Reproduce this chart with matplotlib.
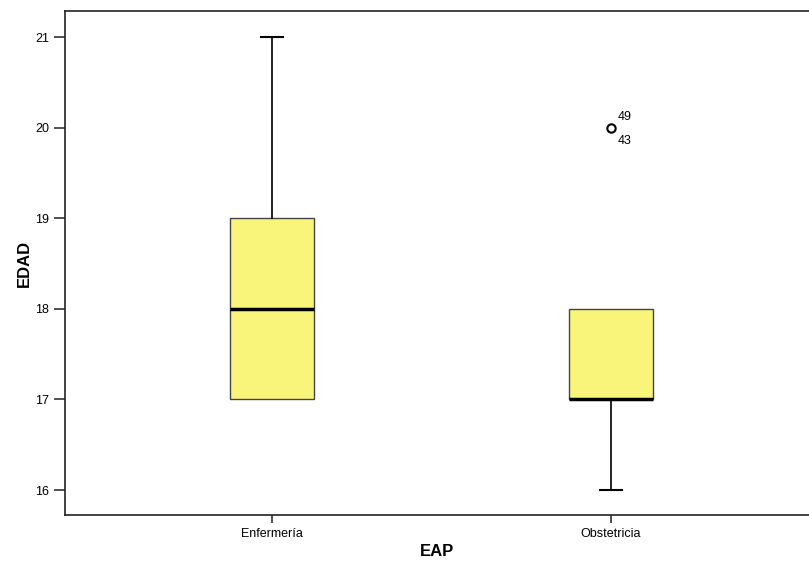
import matplotlib.pyplot as plt

plt.rcParams['font.family'] = ['Liberation Sans', 'DejaVu Sans']

# datos del boxplot
grupos = ["Enfermería", "Obstetricia"]
q1 = [17, 17]
mediana = [18, 17]
q3 = [19, 18]
bigote_inf = [17, 16]
bigote_sup = [21, 18]
atipicos = [[], [20]]
etiquetas_atipicos = [[], [("49", "43")]]

stats = []
for i in range(len(grupos)):
    stats.append({"label": grupos[i], "q1": q1[i], "med": mediana[i], "q3": q3[i],
                  "whislo": bigote_inf[i], "whishi": bigote_sup[i], "fliers": atipicos[i]})

fig = plt.figure(figsize=(8.09, 5.64), dpi=100)
ax = fig.add_axes([65/809, 1 - 515/564, 1 - 65/809, (515 - 11)/564])

pos = [1, 2]
bp = ax.bxp(stats, positions=pos, widths=0.25, patch_artist=True, capwidths=0.065,
            boxprops=dict(facecolor="#F9F57A", edgecolor="#444444", linewidth=1.0),
            medianprops=dict(color="black", linewidth=2.5),
            whiskerprops=dict(color="black", linewidth=1.2),
            capprops=dict(color="black", linewidth=1.5),
            flierprops=dict(marker="o", markersize=6, markerfacecolor="none",
                            markeredgecolor="black", markeredgewidth=1.5))

# SPSS no dibuja el tope cuando el bigote coincide con la caja
for i in range(len(grupos)):
    if bigote_inf[i] == q1[i]:
        bp["caps"][2*i].set_visible(False)
    if bigote_sup[i] == q3[i]:
        bp["caps"][2*i + 1].set_visible(False)

for i in range(len(grupos)):
    for v, (arriba, abajo) in zip(atipicos[i], etiquetas_atipicos[i]):
        ax.annotate(arriba, (pos[i], v), xytext=(5, 3), textcoords="offset points",
                    fontsize=9, va="bottom", ha="left")
        ax.annotate(abajo, (pos[i], v), xytext=(5, -5), textcoords="offset points",
                    fontsize=9, va="top", ha="left")

ax.set_xlim(1 - 207/339, 2 + 198/339)
ax.set_ylim(16 - 25/90.6, 21 + 26/90.6)
ax.set_yticks([16, 17, 18, 19, 20, 21])
ax.set_xticks(pos)
ax.set_xticklabels(grupos)
ax.tick_params(labelsize=9, length=8, width=1.2, color="#333333")
ax.tick_params(axis="x", length=6)
ax.spines["right"].set_visible(False)
for s in ["left", "top", "bottom"]:
    ax.spines[s].set_linewidth(1.2)
    ax.spines[s].set_color("#222222")

ax.set_xlabel("EAP", fontsize=12, fontweight="bold", labelpad=3)
ax.set_ylabel("EDAD", fontsize=12, fontweight="bold", labelpad=2)

fig.savefig("out.png", dpi=100)
